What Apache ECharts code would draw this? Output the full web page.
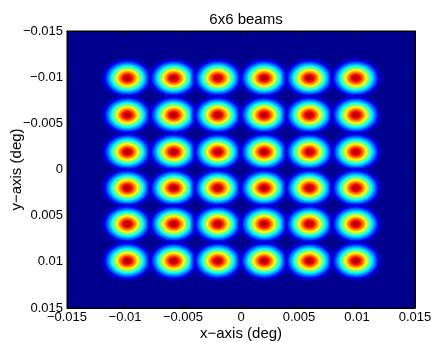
<!DOCTYPE html>
<html>
<head>
<meta charset="utf-8">
<script src="https://cdn.jsdelivr.net/npm/echarts@6/dist/echarts.min.js"></script>
<style>
  html, body { margin: 0; padding: 0; background: #fff; }
  #chart { width: 433px; height: 342px; }
</style>
</head>
<body>
<div id="chart"></div>
<script>
// beam centres (deg)
var beamX = [-0.0098, -0.0058, -0.0020, 0.0020, 0.0059, 0.0099];
var beamY = [-0.0099, -0.0059, -0.0019, 0.0020, 0.0059, 0.0099];
var axisMin = -0.015, axisMax = 0.015, axisStep = 0.005;

var points = [];
for (var i = 0; i < beamY.length; i++) {
    for (var j = 0; j < beamX.length; j++) {
        points.push([beamX[j], beamY[i]]);
    }
}

// jet colours from the peak outwards
var beamFill = {
    type: 'radial', x: 0.5, y: 0.5, r: 0.5,
    colorStops: [
        {offset: 0, color: '#800000'},
        {offset: 0.16, color: '#ff0000'},
        {offset: 0.37, color: '#ffff00'},
        {offset: 0.56, color: '#00ffff'},
        {offset: 0.8, color: '#0000ff'},
        {offset: 1, color: 'rgba(0,0,143,0)'}
    ]
};

function fmt(v) {
    return String(+v.toFixed(4)).replace('-', '\u2212');
}

var font = "'Liberation Sans', Arial, Helvetica, sans-serif";

var baseAxis = {
    type: 'value',
    min: axisMin,
    max: axisMax,
    interval: axisStep,
    nameMoveOverlap: false,
    axisLine: {show: true, onZero: false, lineStyle: {color: '#000', width: 1}},
    axisTick: {show: true, inside: true, length: 4, lineStyle: {color: '#000'}},
    splitLine: {show: false},
    axisLabel: {color: '#000', fontSize: 13, fontFamily: font, formatter: fmt},
    nameTextStyle: {color: '#000', fontSize: 15, fontFamily: font}
};

var chart = echarts.init(document.getElementById('chart'), null, {renderer: 'canvas'});
chart.setOption({
    animation: false,
    title: {
        text: '6x6 beams',
        left: 241, top: 7, textAlign: 'center',
        textStyle: {color: '#000', fontSize: 15, fontWeight: 'normal', fontFamily: font}
    },
    grid: {
        left: 67, top: 31, right: 18, bottom: 34,
        outerBoundsMode: 'none',
        containLabel: false,
        show: true, backgroundColor: '#00008f', borderColor: '#000', borderWidth: 1
    },
    xAxis: [
        Object.assign({}, baseAxis, {
            position: 'bottom', name: 'x\u2212axis (deg)', nameLocation: 'middle', nameGap: 18,
            axisLabel: Object.assign({}, baseAxis.axisLabel, {margin: 3})
        }),
        Object.assign({}, baseAxis, {position: 'top', axisLabel: {show: false}})
    ],
    yAxis: [
        Object.assign({}, baseAxis, {
            position: 'left', inverse: true, name: 'y\u2212axis (deg)', nameLocation: 'middle', nameGap: 43,
            axisLabel: Object.assign({}, baseAxis.axisLabel, {margin: 4})
        }),
        Object.assign({}, baseAxis, {position: 'right', inverse: true, axisLabel: {show: false}})
    ],
    series: [{
        type: 'scatter',
        xAxisIndex: 0,
        yAxisIndex: 0,
        symbol: 'circle',
        symbolSize: [56, 43],
        silent: true,
        clip: true,
        itemStyle: {color: beamFill, opacity: 1},
        emphasis: {disabled: true},
        data: points
    }]
});
</script>
</body>
</html>
